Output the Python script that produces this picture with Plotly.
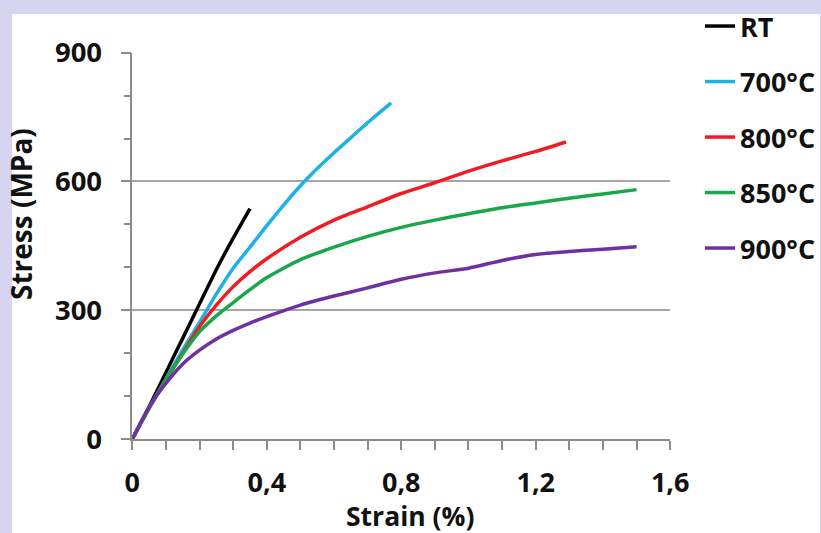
import plotly.graph_objects as go

# ---- data ----
rt_strain = [0, 0.05, 0.10, 0.15, 0.20, 0.25, 0.30, 0.35]
rt_stress = [0, 75, 155, 235, 315, 395, 468, 537]

s700_strain = [0, 0.05, 0.10, 0.15, 0.20, 0.25, 0.30, 0.35, 0.40, 0.45, 0.50, 0.55, 0.60, 0.65, 0.70, 0.77]
s700_stress = [0, 72, 140, 208, 272, 338, 398, 447, 497, 545, 590, 630, 667, 702, 737, 783]

s800_strain = [0, 0.05, 0.10, 0.15, 0.20, 0.25, 0.30, 0.35, 0.40, 0.50, 0.60, 0.70, 0.80, 0.90, 1.00, 1.10, 1.20, 1.29]
s800_stress = [0, 72, 138, 200, 262, 312, 355, 390, 420, 470, 510, 541, 572, 597, 624, 648, 670, 692]

s850_strain = [0, 0.05, 0.10, 0.15, 0.20, 0.25, 0.30, 0.35, 0.40, 0.50, 0.60, 0.70, 0.80, 0.90, 1.00, 1.10, 1.20, 1.30, 1.40, 1.50]
s850_stress = [0, 72, 138, 198, 250, 287, 318, 348, 376, 418, 447, 472, 493, 510, 525, 539, 550, 561, 571, 581]

s900_strain = [0, 0.05, 0.10, 0.15, 0.20, 0.25, 0.30, 0.35, 0.40, 0.50, 0.60, 0.70, 0.80, 0.90, 1.00, 1.10, 1.20, 1.30, 1.40, 1.50]
s900_stress = [0, 75, 130, 175, 207, 233, 253, 270, 285, 312, 333, 352, 372, 387, 398, 416, 430, 437, 442, 448]

series_names = ["RT", "700°C", "800°C", "850°C", "900°C"]
series_x = [rt_strain, s700_strain, s800_strain, s850_strain, s900_strain]
series_y = [rt_stress, s700_stress, s800_stress, s850_stress, s900_stress]
series_colors = ["#000000", "#1fb1e6", "#ee1d23", "#1aa64b", "#7030a0"]

x_ticks = [0, 0.4, 0.8, 1.2, 1.6]
y_ticks = [0, 300, 600, 900]

W, H = 821, 533
FONT = "Open Sans"
TXT = "#111111"

fig = go.Figure()
for name, xs, ys, col in zip(series_names, series_x, series_y, series_colors):
    fig.add_trace(go.Scatter(
        x=xs, y=ys, mode="lines", name=name, legendgroup=name,
        line=dict(color=col, width=3.5, shape="spline", smoothing=0.6),
    ))

axis_col = "#8c8c8c"
fig.update_layout(
    width=W, height=H,
    margin=dict(l=0, r=0, t=0, b=0),
    paper_bgcolor="#d6d4f0",
    plot_bgcolor="white",
    separators=", ",
    font=dict(family=FONT, size=26, color=TXT, weight=700),
    showlegend=True,
    legend=dict(
        x=701 / W, y=1 - 2 / H, xanchor="left", yanchor="top",
        bgcolor="rgba(0,0,0,0)", tracegroupgap=17.4,
        font=dict(family=FONT, size=27, color=TXT, weight=700),
    ),
    xaxis=dict(
        domain=[132.5 / W, 671 / W],
        range=[0, 1.6], tickvals=x_ticks, showgrid=False, zeroline=False,
        showline=True, linecolor=axis_col, linewidth=1.5,
        ticks="outside", ticklen=9, tickcolor=axis_col, tickwidth=1.5,
        ticklabelstandoff=10, automargin=False,
        minor=dict(dtick=0.1, ticks="outside", ticklen=9, tickcolor=axis_col, tickwidth=1.5, showgrid=False),
        tickfont=dict(family=FONT, size=27, weight=700, color=TXT),
    ),
    yaxis=dict(
        domain=[1 - 439 / H, 1 - 52.7 / H],
        range=[0, 900], tickvals=y_ticks, showgrid=True, gridcolor="#a6a6a6", gridwidth=1.5,
        zeroline=False, showline=True, linecolor=axis_col, linewidth=1.5,
        ticks="outside", ticklen=10, tickcolor=axis_col, tickwidth=1.5,
        ticklabelstandoff=13, automargin=False,
        minor=dict(dtick=100, ticks="outside", ticklen=7, tickcolor=axis_col, tickwidth=1.5, showgrid=False),
        tickfont=dict(family=FONT, size=27.5, weight=700, color=TXT),
    ),
    shapes=[dict(type="rect", xref="paper", yref="paper", layer="below",
                 x0=12 / W, x1=1, y0=0, y1=1 - 14 / H,
                 fillcolor="white", line=dict(width=0))],
    annotations=[
        dict(text="Strain (%)", xref="paper", yref="paper", x=410 / W, y=1 - 516 / H,
             xanchor="center", yanchor="middle", showarrow=False,
             font=dict(family=FONT, size=26.5, weight=700, color=TXT)),
        dict(text="Stress (MPa)", xref="paper", yref="paper", x=21 / W, y=1 - 214 / H,
             xanchor="center", yanchor="middle", showarrow=False, textangle=-90,
             font=dict(family=FONT, size=28, weight=700, color=TXT)),
    ],
)

fig.write_html("out.html", config={"displayModeBar": False},
               post_script="document.body.style.margin='0';document.body.style.padding='0';")
